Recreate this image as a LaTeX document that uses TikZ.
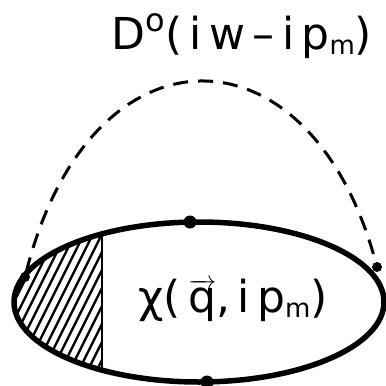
\documentclass[tikz,border=0pt]{standalone}
\usepackage{fontspec}
\setmainfont{DejaVu Sans}
\begin{document}
\begin{tikzpicture}[x=1pt,y=-1pt,
  loop/.style={line width=5.5pt},
  prop/.style={line width=3pt,dash pattern=on 15pt off 10pt},
  hatch/.style={line width=2.4pt},
  vert/.style={line width=2.4pt},
  dot/.style={circle,fill=black,inner sep=0pt,minimum size=#1},
  lbl/.style={inner sep=0pt,font=\fontsize{44}{52}\selectfont}]
\useasboundingbox (0,0) rectangle (386,386);
% hatched part
\begin{scope}
  \clip (199,302) ellipse [x radius=185pt, y radius=80pt];
  \clip (0,0) rectangle (102,386);
  \foreach \i in {-120,-111,...,120}
    \draw[hatch] (\i,390) -- ++(85,-170);
\end{scope}
\begin{scope}
  \clip (199,302) ellipse [x radius=185pt, y radius=80pt];
  \draw[vert] (102,200) -- (102,400);
\end{scope}
% loop
\draw[loop] (199,302) ellipse [x radius=185pt, y radius=80pt];
\node[dot=13pt] (top) at (190,222) {};
\node[dot=13pt] (bot) at (207,382) {};
\node[dot=10pt] (vl) at (25,277) {};
\node[dot=10pt] (vr) at (377,267) {};
% phonon propagator
\draw[prop] (vl) .. controls (90,19) and (310,19) .. (vr);
% labels
\node[lbl] (D) at (242,36) {D\raisebox{0.42em}{\fontsize{32}{32}\selectfont o}(\,i\,w\,–\,i\,p\raisebox{-0.12em}{\fontsize{26}{26}\selectfont m})};
\node[lbl] (chi) at (233,300) {χ(\,$\overrightarrow{\mbox{q}}$,\,i\,p\raisebox{-0.12em}{\fontsize{26}{26}\selectfont m})};
\end{tikzpicture}
\end{document}
